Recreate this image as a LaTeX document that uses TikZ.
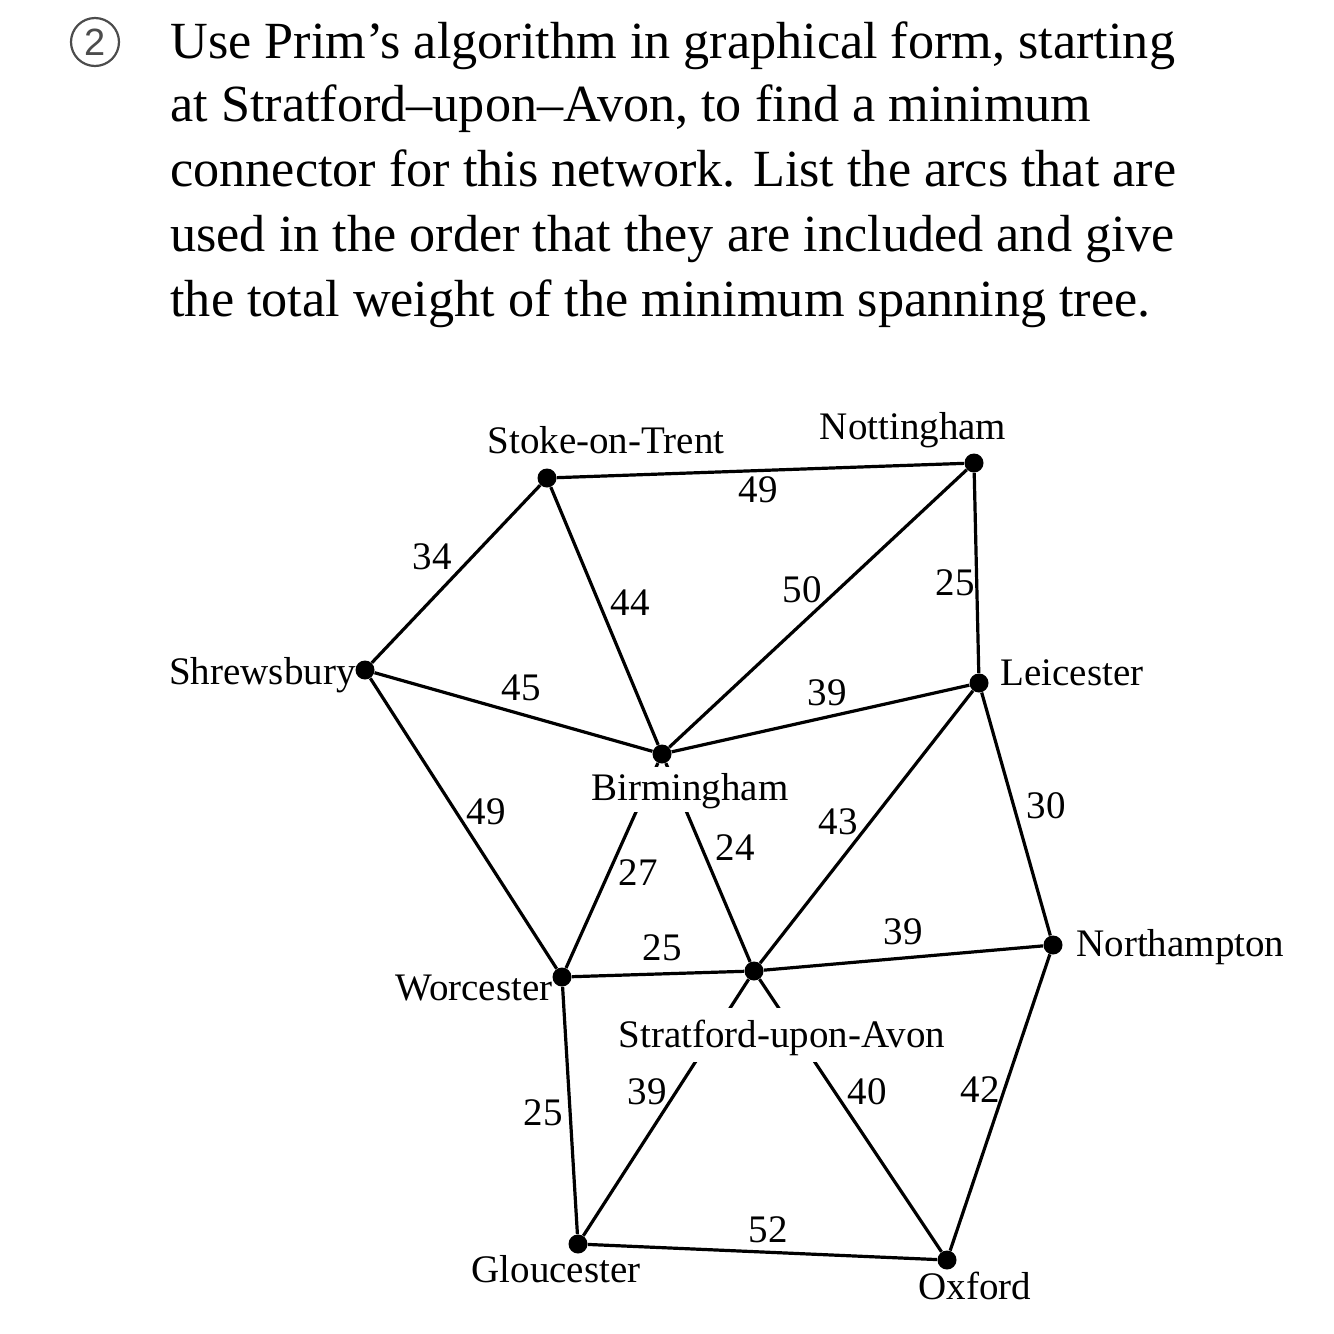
\documentclass[tikz,border=0pt]{standalone}
\usepackage{fontspec}
\setmainfont{Liberation Serif}
\newfontfamily\circfont{Liberation Sans}
\begin{document}
\begin{tikzpicture}[x=0.5pt,y=-0.5pt,
  vtx/.style={circle,fill=black,inner sep=0pt,minimum size=9.5pt},
  edge/.style={line width=1.6pt},
  city/.style={font=\fontsize{19.5}{22}\selectfont,inner sep=0pt},
  wt/.style={font=\fontsize{19.5}{22}\selectfont,inner sep=0pt},
  gapbox/.style={fill=white,inner xsep=3pt,inner ysep=0pt},
  para/.style={font=\fontsize{26.1}{30}\selectfont,anchor=base west,inner sep=0pt}]
\useasboundingbox (0,0) rectangle (1334,1334);
% question
\node[circle,draw=black!70,line width=1.1pt,minimum size=24pt,inner sep=0pt,
      font=\circfont\fontsize{19}{20}\selectfont,text=black!70] (qnum) at (95,42) {2};
\node[para] (l1) at (170,58)  {Use Prim’s algorithm in graphical form, starting};
\node[para] (l2) at (170,121) {at Stratford–upon–Avon, to find a minimum};
\node[para] (l3) at (170,186) {connector for this network. List the arcs that are};
\node[para] (l4) at (170,251) {used in the order that they are included and give};
\node[para] (l5) at (170,316) {the total weight of the minimum spanning tree.};
% vertices
\node[vtx] (sto) at (547,478) {};
\node[vtx] (not) at (974,463) {};
\node[vtx] (shr) at (365,670) {};
\node[vtx] (lei) at (979,683) {};
\node[vtx] (bir) at (662,754) {};
\node[vtx] (wor) at (562,977) {};
\node[vtx] (str) at (754,971) {};
\node[vtx] (nor) at (1053,945) {};
\node[vtx] (glo) at (578,1244) {};
\node[vtx] (oxf) at (947,1260) {};
% edges
\draw[edge] (sto) -- (not);
\draw[edge] (sto) -- (shr);
\draw[edge] (sto) -- (bir);
\draw[edge] (not) -- (bir);
\draw[edge] (not) -- (lei);
\draw[edge] (shr) -- (bir);
\draw[edge] (bir) -- (lei);
\draw[edge] (shr) -- (wor);
\draw[edge] (bir) -- (wor);
\draw[edge] (bir) -- (str);
\draw[edge] (lei) -- (str);
\draw[edge] (lei) -- (nor);
\draw[edge] (wor) -- (str);
\draw[edge] (str) -- (nor);
\draw[edge] (wor) -- (glo);
\draw[edge] (str) -- (glo);
\draw[edge] (str) -- (oxf);
\draw[edge] (nor) -- (oxf);
\draw[edge] (glo) -- (oxf);
% city labels
\node[city,anchor=base] (tsto) at (606,453) {Stoke-on-Trent};
\node[city,anchor=base] (tnot) at (913,439) {Nottingham};
\node[city,anchor=base east] (tshr) at (356,684) {Shrewsbury};
\node[city,anchor=base west] (tlei) at (1000,685) {Leicester};
\node[city,gapbox,anchor=base,text height=16.5pt,text depth=6pt] (tbir) at (690,800) {Birmingham};
\node[city,anchor=base east] (twor) at (553,1000) {Worcester};
\node[city,gapbox,anchor=base,text height=19.5pt,text depth=7.5pt] (tstr) at (782,1047) {Stratford-upon-Avon};
\node[city,anchor=base west] (tnor) at (1076,956) {Northampton};
\node[city,anchor=base] (tglo) at (556,1282) {Gloucester};
\node[city,anchor=base] (toxf) at (975,1299) {Oxford};
% weights
\node[wt] (w1) at (758,490) {49};
\node[wt] (w2) at (432,557) {34};
\node[wt] (w3) at (630,603) {44};
\node[wt] (w4) at (802,590) {50};
\node[wt] (w5) at (955,583) {25};
\node[wt] (w6) at (521,688) {45};
\node[wt] (w7) at (827,693) {39};
\node[wt] (w8) at (486,812) {49};
\node[wt] (w9) at (638,873) {27};
\node[wt] (w10) at (735,848) {24};
\node[wt] (w11) at (838,822) {43};
\node[wt] (w12) at (1046,806) {30};
\node[wt] (w13) at (662,948) {25};
\node[wt] (w14) at (903,932) {39};
\node[wt] (w15) at (647,1092) {39};
\node[wt] (w16) at (867,1092) {40};
\node[wt] (w17) at (980,1090) {42};
\node[wt] (w18) at (543,1113) {25};
\node[wt] (w19) at (768,1230) {52};
\end{tikzpicture}
\end{document}
